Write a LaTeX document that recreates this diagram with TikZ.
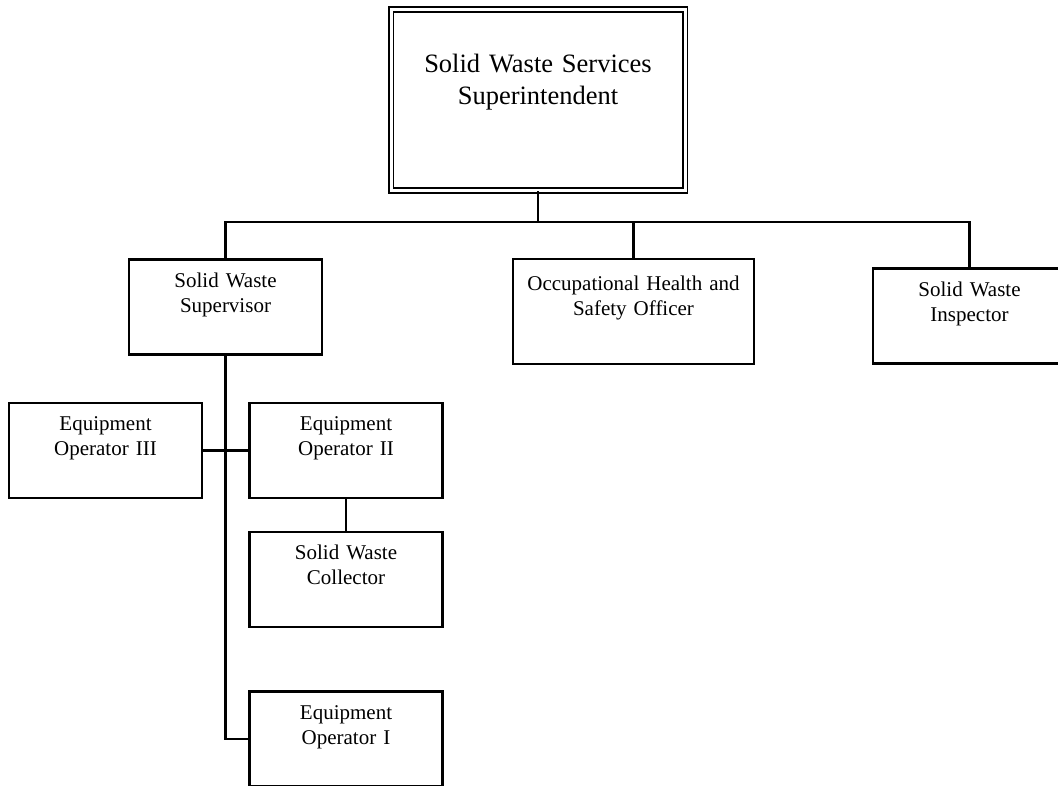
\documentclass[tikz,border=0pt]{standalone}
\usepackage{fontspec}
\setmainfont{Liberation Serif}
\usepackage{tikz}
\usetikzlibrary{positioning}

\begin{document}
\begin{tikzpicture}[x=1pt,y=-1pt,
    box/.style={draw=black, line width=2.1pt, minimum width=193pt, minimum height=95pt, inner sep=0pt},
    topbox/.style={draw=black, line width=1.9pt, double, double distance=3pt, minimum width=294pt, minimum height=181pt, inner sep=0pt},
    lbl/.style={align=center, text width=235pt, inner sep=0pt, font=\fontsize{21}{25}\selectfont},
    toplbl/.style={lbl, text width=290pt, font=\fontsize{26.5}{32}\selectfont},
    link/.style={draw=black, line width=2.1pt}]
        \def\W{1058}
        \def\H{785}
        % page frame
        \useasboundingbox (0,0) rectangle (\W,\H);
        \clip (0,0) rectangle (\W,\H);
        % the boxes
        \node[topbox] (supt) at (538,100) {};
        \node[box] (sup) at (225.5,307) {};
        \node[box, minimum width=241pt, minimum height=105pt] (ohs) at (633.5,311.5) {};
        \node[box] (insp) at (969.5,316) {};
        \node[box] (eo3) at (105.5,450.5) {};
        \node[box] (eo2) at (346,450.5) {};
        \node[box] (coll) at (346,579.5) {};
        \node[box] (eo1) at (346,739) {};
        % the titles
        \node[toplbl, below=64pt of supt.north, anchor=base] (supttxt) {Solid Waste Services\\Superintendent};
        \node[lbl, below=29pt of sup.north, anchor=base] (suptxt) {Solid Waste\\Supervisor};
        \node[lbl, below=33pt of ohs.north, anchor=base] (ohstxt) {Occupational Health and\\Safety Officer};
        \node[lbl, below=29pt of insp.north, anchor=base] (insptxt) {Solid Waste\\Inspector};
        \node[lbl, below=29pt of eo3.north, anchor=base] (eo3txt) {Equipment\\Operator III};
        \node[lbl, below=29pt of eo2.north, anchor=base] (eo2txt) {Equipment\\Operator II};
        \node[lbl, below=29pt of coll.north, anchor=base] (colltxt) {Solid Waste\\Collector};
        \node[lbl, below=29pt of eo1.north, anchor=base] (eo1txt) {Equipment\\Operator I};
        % lines
        \coordinate (bus) at (538,222);
        \draw[link] (supt.south) -- (bus);
        \draw[link] (sup.north) |- (bus) -| (insp.north);
        \draw[link] (ohs.north) |- (bus);
        \draw[link] (sup.south) |- (eo1.west);
        \draw[link] (eo3.east) -- (eo2.west);
        \draw[link] (eo2.south) -- (coll.north);
      \end{tikzpicture}
\end{document}
